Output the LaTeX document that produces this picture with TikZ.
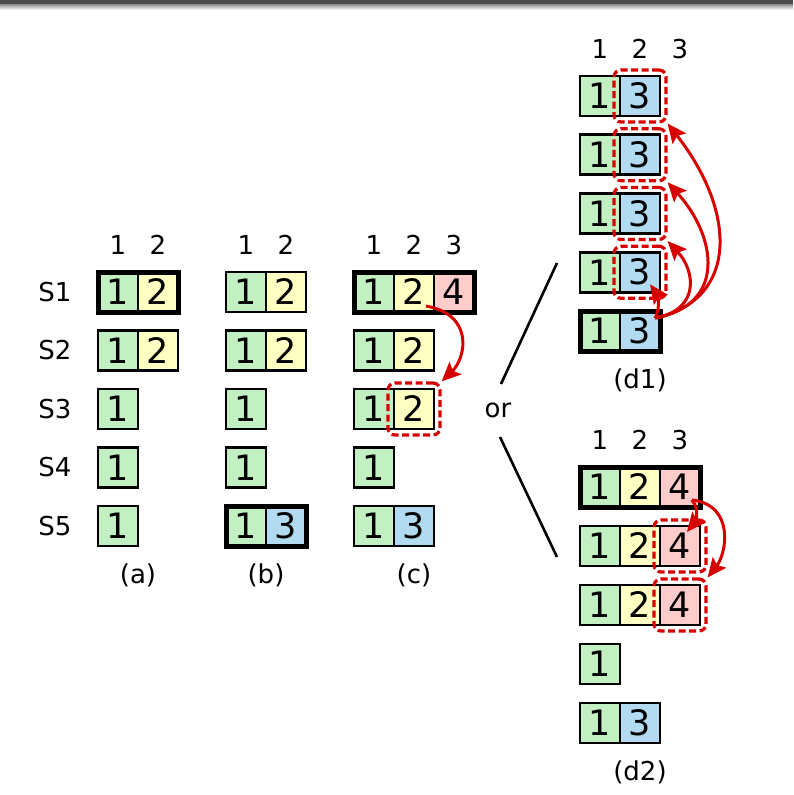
\documentclass[tikz,border=0pt]{standalone}
\usepackage{fontspec}
\setmainfont{DejaVu Sans}
\usetikzlibrary{fit,arrows.meta,calc}
\definecolor{cgreen}{RGB}{195,240,195}
\definecolor{cyellow}{RGB}{255,255,196}
\definecolor{cpink}{RGB}{255,204,204}
\definecolor{cblue}{RGB}{178,218,240}
\definecolor{cred}{RGB}{215,0,0}
\begin{document}
\begin{tikzpicture}[x=1pt,y=-1pt,
  cell/.style={draw=black, line width=2.6pt, minimum width=40pt, minimum height=40pt, inner sep=0pt, outer sep=0pt, font=\fontsize{35}{35}\selectfont, text=black},
  gc/.style={cell, fill=cgreen},
  yc/.style={cell, fill=cyellow},
  pc/.style={cell, fill=cpink},
  bc/.style={cell, fill=cblue},
  leader/.style={draw=black, line width=5pt, inner sep=0pt},
  dbox/.style={draw=cred, dash pattern=on 7pt off 3.5pt, line width=3.2pt, rounded corners=7pt, inner sep=6pt},
  arr/.style={draw=cred, line width=3pt, -{Stealth[length=19pt,width=17pt,inset=3.5pt]}},
  hdr/.style={font=\fontsize{26}{26}\selectfont, text=black},
  lbl/.style={font=\fontsize{26}{26}\selectfont, text=black},
]
\useasboundingbox (0,0) rectangle (793,795);
\fill[black!70] (0,0) rectangle (793,4);
\shade[top color=black!45, bottom color=white] (0,4) rectangle (793,10);

% S labels
\node[lbl] (s1) at (55,292) {S1};
\node[lbl] (s2) at (55,350.5) {S2};
\node[lbl] (s3) at (55,409) {S3};
\node[lbl] (s4) at (55,467.5) {S4};
\node[lbl] (s5) at (55,526) {S5};

% (a)
\node[hdr] (ah1) at (118,245) {1};
\node[hdr] (ah2) at (158,245) {2};
\node[gc] (a11) at (118,292) {1};
\node[yc] (a12) at (158,292) {2};
\node[gc] (a21) at (118,350.5) {1};
\node[yc] (a22) at (158,350.5) {2};
\node[gc] (a31) at (118,409) {1};
\node[gc] (a41) at (118,467.5) {1};
\node[gc] (a51) at (118,526) {1};
\node[leader, fit=(a11)(a12)] (aL) {};
\node[lbl] (alab) at (138,575) {(a)};

% (b)
\node[hdr] (bh1) at (246,245) {1};
\node[hdr] (bh2) at (286,245) {2};
\node[gc] (b11) at (246,292) {1};
\node[yc] (b12) at (286,292) {2};
\node[gc] (b21) at (246,350.5) {1};
\node[yc] (b22) at (286,350.5) {2};
\node[gc] (b31) at (246,409) {1};
\node[gc] (b41) at (246,467.5) {1};
\node[gc] (b51) at (246,526) {1};
\node[bc] (b52) at (286,526) {3};
\node[leader, fit=(b51)(b52)] (bL) {};
\node[lbl] (blab) at (266,575) {(b)};

% (c)
\node[hdr] (ch1) at (374,245) {1};
\node[hdr] (ch2) at (414,245) {2};
\node[hdr] (ch3) at (454,245) {3};
\node[gc] (c11) at (374,292) {1};
\node[yc] (c12) at (414,292) {2};
\node[pc] (c13) at (454,292) {4};
\node[gc] (c21) at (374,350.5) {1};
\node[yc] (c22) at (414,350.5) {2};
\node[gc] (c31) at (374,409) {1};
\node[yc] (c32) at (414,409) {2};
\node[gc] (c41) at (374,467.5) {1};
\node[gc] (c51) at (374,526) {1};
\node[bc] (c52) at (414,526) {3};
\node[leader, fit=(c11)(c13)] (cL) {};
\node[dbox, fit=(c32)] (c3d) {};
\node[lbl] (clab) at (414,575) {(c)};

% or
\node[lbl] (or) at (498,410) {or};
\coordinate (up1) at (557,263);
\coordinate (up2) at (501,384);
\coordinate (lo1) at (500,437);
\coordinate (lo2) at (557,557);
\draw[line width=2.6pt, black] (up2) -- (up1);
\draw[line width=2.6pt, black] (lo1) -- (lo2);

% (d1)
\node[hdr] (dh1) at (600,49) {1};
\node[hdr] (dh2) at (640,49) {2};
\node[hdr] (dh3) at (680,49) {3};
\node[gc] (d11) at (600,96) {1};
\node[bc] (d12) at (640,96) {3};
\node[gc] (d21) at (600,154.75) {1};
\node[bc] (d22) at (640,154.75) {3};
\node[gc] (d31) at (600,213.5) {1};
\node[bc] (d32) at (640,213.5) {3};
\node[gc] (d41) at (600,272.25) {1};
\node[bc] (d42) at (640,272.25) {3};
\node[gc] (d51) at (600,331) {1};
\node[bc] (d52) at (640,331) {3};
\node[leader, fit=(d51)(d52)] (dL) {};
\node[dbox, fit=(d12)] (d1d) {};
\node[dbox, fit=(d22)] (d2d) {};
\node[dbox, fit=(d32)] (d3d) {};
\node[dbox, fit=(d42)] (d4d) {};
\node[lbl] (dlab) at (640,380) {(d1)};

% (d2)
\node[hdr] (eh1) at (600,440) {1};
\node[hdr] (eh2) at (640,440) {2};
\node[hdr] (eh3) at (680,440) {3};
\node[gc] (e11) at (600,487) {1};
\node[yc] (e12) at (640,487) {2};
\node[pc] (e13) at (680,487) {4};
\node[gc] (e21) at (600,546) {1};
\node[yc] (e22) at (640,546) {2};
\node[pc] (e23) at (680,546) {4};
\node[gc] (e31) at (600,605) {1};
\node[yc] (e32) at (640,605) {2};
\node[pc] (e33) at (680,605) {4};
\node[gc] (e41) at (600,664) {1};
\node[gc] (e51) at (600,723) {1};
\node[bc] (e52) at (640,723) {3};
\node[leader, fit=(e11)(e13)] (eL) {};
\node[dbox, fit=(e23)] (e2d) {};
\node[dbox, fit=(e33)] (e3d) {};
\node[lbl] (elab) at (640,772) {(d2)};

% arrow anchors
\coordinate (cs) at ($(c12.south east)+(-8,-6)$);
\coordinate (ds) at ($(d52.north east)+(-5,7)$);
\coordinate (d4e) at ($(d42.south east)+(-10,-8)$);
\coordinate (es) at ($(e13.south east)+(-8,-7)$);
\coordinate (e2e) at ($(e23.north east)+(-13,6)$);

% arrows
\draw[arr] (cs) .. controls +(49,9) and +(24,-23) .. (c3d.north east);
\draw[arr] (ds) .. controls +(84,-18) and +(69,88) .. (d1d.south east);
\draw[arr] (ds) .. controls +(72,-13) and +(49,54) .. (d2d.south east);
\draw[arr] (ds) .. controls +(45,-8) and +(28,30) .. (d3d.south east);
\draw[arr] (ds) .. controls +(6,-10) and +(7,10) .. (d4e);
\draw[arr] (es) .. controls +(8,10) and +(8,-10) .. (e2e);
\draw[arr] (es) .. controls +(43,5) and +(19,-24) .. (e3d.north east);
\end{tikzpicture}
\end{document}
